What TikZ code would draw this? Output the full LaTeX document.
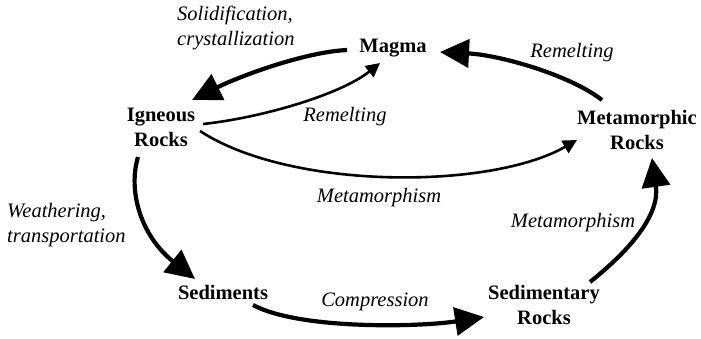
\documentclass[tikz,border=0pt]{standalone}
\usepackage{fontspec}
\setmainfont{Liberation Serif}[ItalicFont={Liberation Serif Italic},BoldFont={Liberation Serif Bold}]
\usetikzlibrary{arrows.meta,calc}
\begin{document}
\begin{tikzpicture}[x=1pt,y=-1pt,
  bnode/.style={font=\fontsize{20.5}{25}\selectfont\bfseries, align=center, inner sep=0pt},
  lab/.style={font=\fontsize{20.5}{25}\selectfont\itshape, align=center, inner sep=0pt},
  thickarr/.style={line width=4.2pt, -{Triangle[length=29pt,width=28pt]}},
  thinarr/.style={line width=2.6pt, -{Triangle[length=14pt,width=14pt]}}]
\useasboundingbox (0,0) rectangle (701,338);
\fill[white] (0,0) rectangle (701,338);
% nodes
\node[bnode] (magma) at (393,48) {Magma};
\node[bnode] (igneous) at (161,127) {Igneous\\Rocks};
\node[bnode] (meta) at (637,130) {Metamorphic\\Rocks};
\node[bnode] (sed) at (223,292) {Sediments};
\node[bnode] (sedrock) at (544,305) {Sedimentary\\Rocks};
% labels
\node[lab, align=left, anchor=west] (l1) at (177,28) {Solidification,\\crystallization};
\node[lab] (l2) at (345,117) {Remelting};
\node[lab] (l3) at (572,53) {Remelting};
\node[lab] (l4) at (379,198) {Metamorphism};
\node[lab] (l5) at (573,223) {Metamorphism};
\node[lab, align=left, anchor=west] (l6) at (7,225) {Weathering,\\transportation};
\node[lab] (l7) at (375,302) {Compression};
% connectors
\draw[thickarr] ($(magma)+(-46,2)$) .. controls +(-42,2) and +(48,-24) .. ($(igneous)+(31,-27)$);
\draw[thinarr] ($(igneous)+(42,-3)$) .. controls +(57,-6) and +(-40,32) .. ($(magma)+(-13,15)$);
\draw[thinarr] ($(igneous)+(39,4)$) .. controls +(90,59) and +(-87,50) .. ($(meta)+(-60,10)$);
\draw[thickarr] ($(meta)+(-35,-30)$) .. controls +(-32,-25) and +(60,3) .. ($(magma)+(47,4)$);
\draw[thickarr] ($(igneous)+(-23,30)$) .. controls +(-10,33) and +(-55,-44) .. ($(sed)+(-28,-13)$);
\draw[thickarr] ($(sed)+(30,13)$) .. controls +(47,25) and +(-64,10) .. ($(sedrock)+(-60,12)$);
\draw[thickarr] ($(sedrock)+(46,-23)$) .. controls +(40,-32) and +(8,57) .. ($(meta)+(15,28)$);
\end{tikzpicture}
\end{document}
